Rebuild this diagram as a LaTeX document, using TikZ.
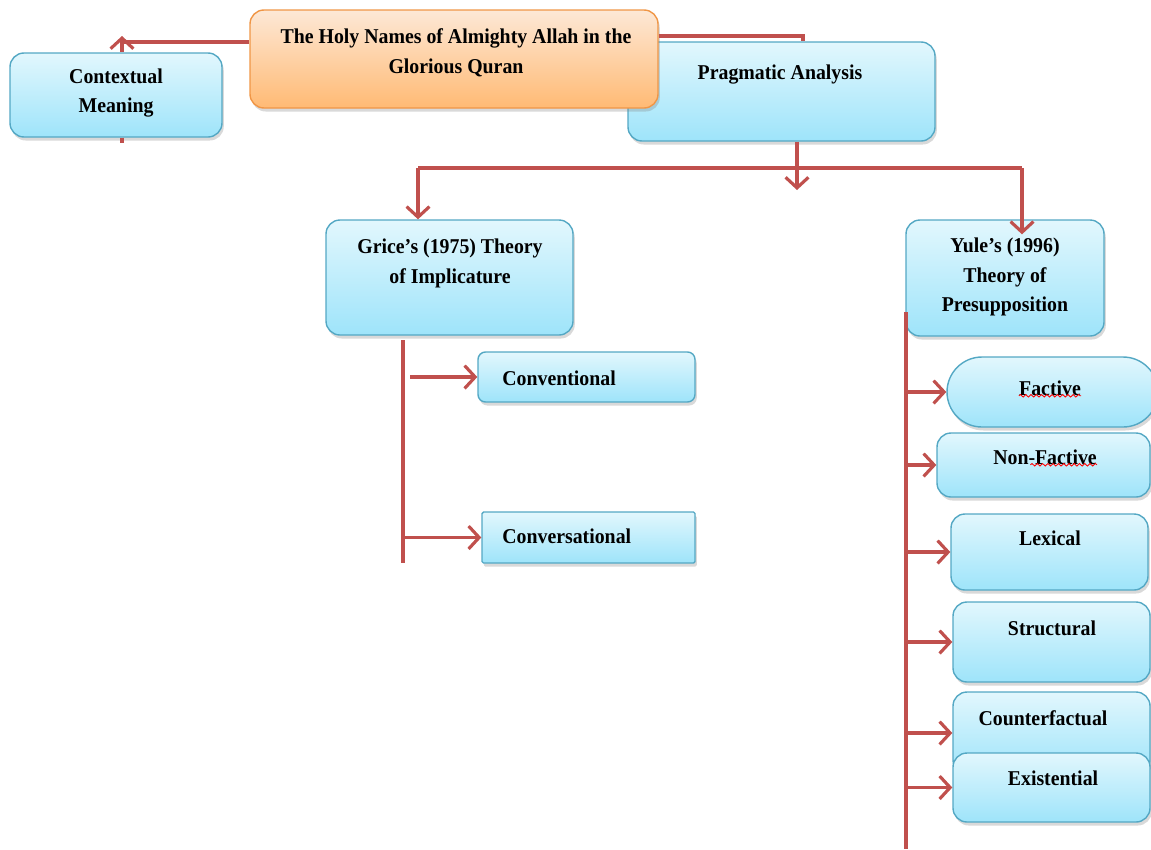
\documentclass[tikz,border=0pt]{standalone}
\usepackage{fontspec}
\setmainfont{Liberation Serif}[FakeStretch=0.94]
\usetikzlibrary{arrows.meta,fit,shadows,shadings,decorations.pathmorphing}

\definecolor{linkred}{RGB}{192,80,77}
\definecolor{boxline}{RGB}{84,168,196}
\definecolor{boxtop}{RGB}{226,247,253}
\definecolor{boxbot}{RGB}{158,228,250}
\definecolor{orline}{RGB}{240,150,70}
\definecolor{ortop}{RGB}{253,232,214}
\definecolor{orbot}{RGB}{255,186,116}

\begin{document}
\begin{tikzpicture}[x=0.02cm, y=-0.02cm,
    box/.style={draw=boxline, line width=0.8pt, rounded corners=0.28cm, inner sep=0pt,
      top color=boxtop, bottom color=boxbot,
      drop shadow={opacity=0.3, shadow xshift=1pt, shadow yshift=-2pt}},
    obox/.style={box, draw=orline, top color=ortop, bottom color=orbot},
    txt/.style={font=\bfseries\fontsize{12}{17}\selectfont, align=center, inner sep=0pt},
    conn/.style={draw=linkred, line width=1.8pt},
    arr/.style={conn, -{Straight Barb[length=6pt,width=13pt]}},
    wavy/.style={draw=red, line width=0.5pt, decorate,
      decoration={snake, segment length=3pt, amplitude=0.7pt}}]
  \useasboundingbox (0,0) rectangle (1151,849);
  % top level
  \node[box, fit={(628,42) (935,141)}] (prag) {};
  \node[obox, fit={(250,10) (658,108)}] (top) {};
  \node[box, fit={(10,53) (222,137)}] (ctx) {};
  \node[txt] (topT) at (456,53) {The Holy Names of Almighty Allah in the\\Glorious Quran};
  \node[txt] (ctxT) at (116,93) {Contextual\\Meaning};
  \node[txt] (pragT) at (780,75) {Pragmatic Analysis};
  \coordinate (c1) at (122,42);
  \coordinate (c2) at (803,36);
  \draw[conn] (top.west |- c1) -- (c1) -- (c1 |- ctx.north);
  \draw[arr] (c1) -- ++(0,-6);
  \draw[conn] (c1 |- ctx.south) -- ++(0,5);
  \draw[conn] (top.east |- c2) -- (c2) -- (c2 |- prag.north);
  % theories
  \node[box, fit={(326,220) (573,335)}] (grice) {};
  \node[box, fit={(906,220) (1104,336)}] (yule) {};
  \node[txt] (griceT) at (450,263) {Grice's (1975) Theory\\of Implicature};
  \node[txt] (yuleT) at (1005,277) {Yule's (1996)\\Theory of\\Presupposition};
  \coordinate (barL) at (418,168);
  \coordinate (barR) at (1022,168);
  \coordinate (pdown) at (797,190);
  \draw[conn] (barL) -- (barR);
  \draw[arr] (prag.south -| pdown) -- (pdown);
  \draw[arr] (barL) -- (grice.north -| barL);
  \draw[arr, shorten >=-0.3cm] (barR) -- (yule.north -| barR);
  % implicature
  \node[box, rounded corners=0.15cm, fit={(478,352) (695,402)}] (conv) {};
  \node[box, rounded corners=0.03cm, fit={(482,512) (695,563)}] (convs) {};
  \node[txt, anchor=west] (convT) at (502,378) {Conventional};
  \node[txt, anchor=west] (convsT) at (502,536) {Conversational};
  \coordinate (gtop) at (403,340);
  \coordinate (gbot) at (403,563);
  \draw[conn] (gtop) -- (gbot);
  \draw[arr] ([xshift=0.14cm]gtop |- conv.west) -- (conv.west);
  \draw[arr] (gtop |- convs.west) -- (convs.west);
  % presupposition
  \node[box, rounded corners=0.7cm, fit={(947,357) (1158,427)}] (fact) {};
  \node[box, fit={(937,433) (1150,497)}] (nfact) {};
  \node[box, fit={(951,514) (1148,590)}] (lex) {};
  \node[box, fit={(953,602) (1150,682)}] (struc) {};
  \node[box, fit={(953,692) (1150,774)}] (count) {};
  \node[box, fit={(953,753) (1150,822)}] (exist) {};
  \node[txt] (factT) at (1050,388) {Factive};
  \node[txt] (nfactT) at (1045,457) {Non-Factive};
  \node[txt] (lexT) at (1050,538) {Lexical};
  \node[txt] (strucT) at (1052,628) {Structural};
  \node[txt] (countT) at (1043,718) {Counterfactual};
  \node[txt] (existT) at (1053,778) {Existential};
  \draw[wavy] (factT.south west) -- (factT.south east);
  \draw[wavy] ([xshift=0.75cm]nfactT.south west) -- (nfactT.south east);
  \coordinate (ytop) at (906,312);
  \coordinate (ybot) at (906,849);
  \draw[conn] (ytop) -- (ybot);
  \foreach \n in {fact,nfact,lex,struc,count,exist}
    \draw[arr] (ytop |- \n.west) -- (\n.west);
\end{tikzpicture}
\end{document}
